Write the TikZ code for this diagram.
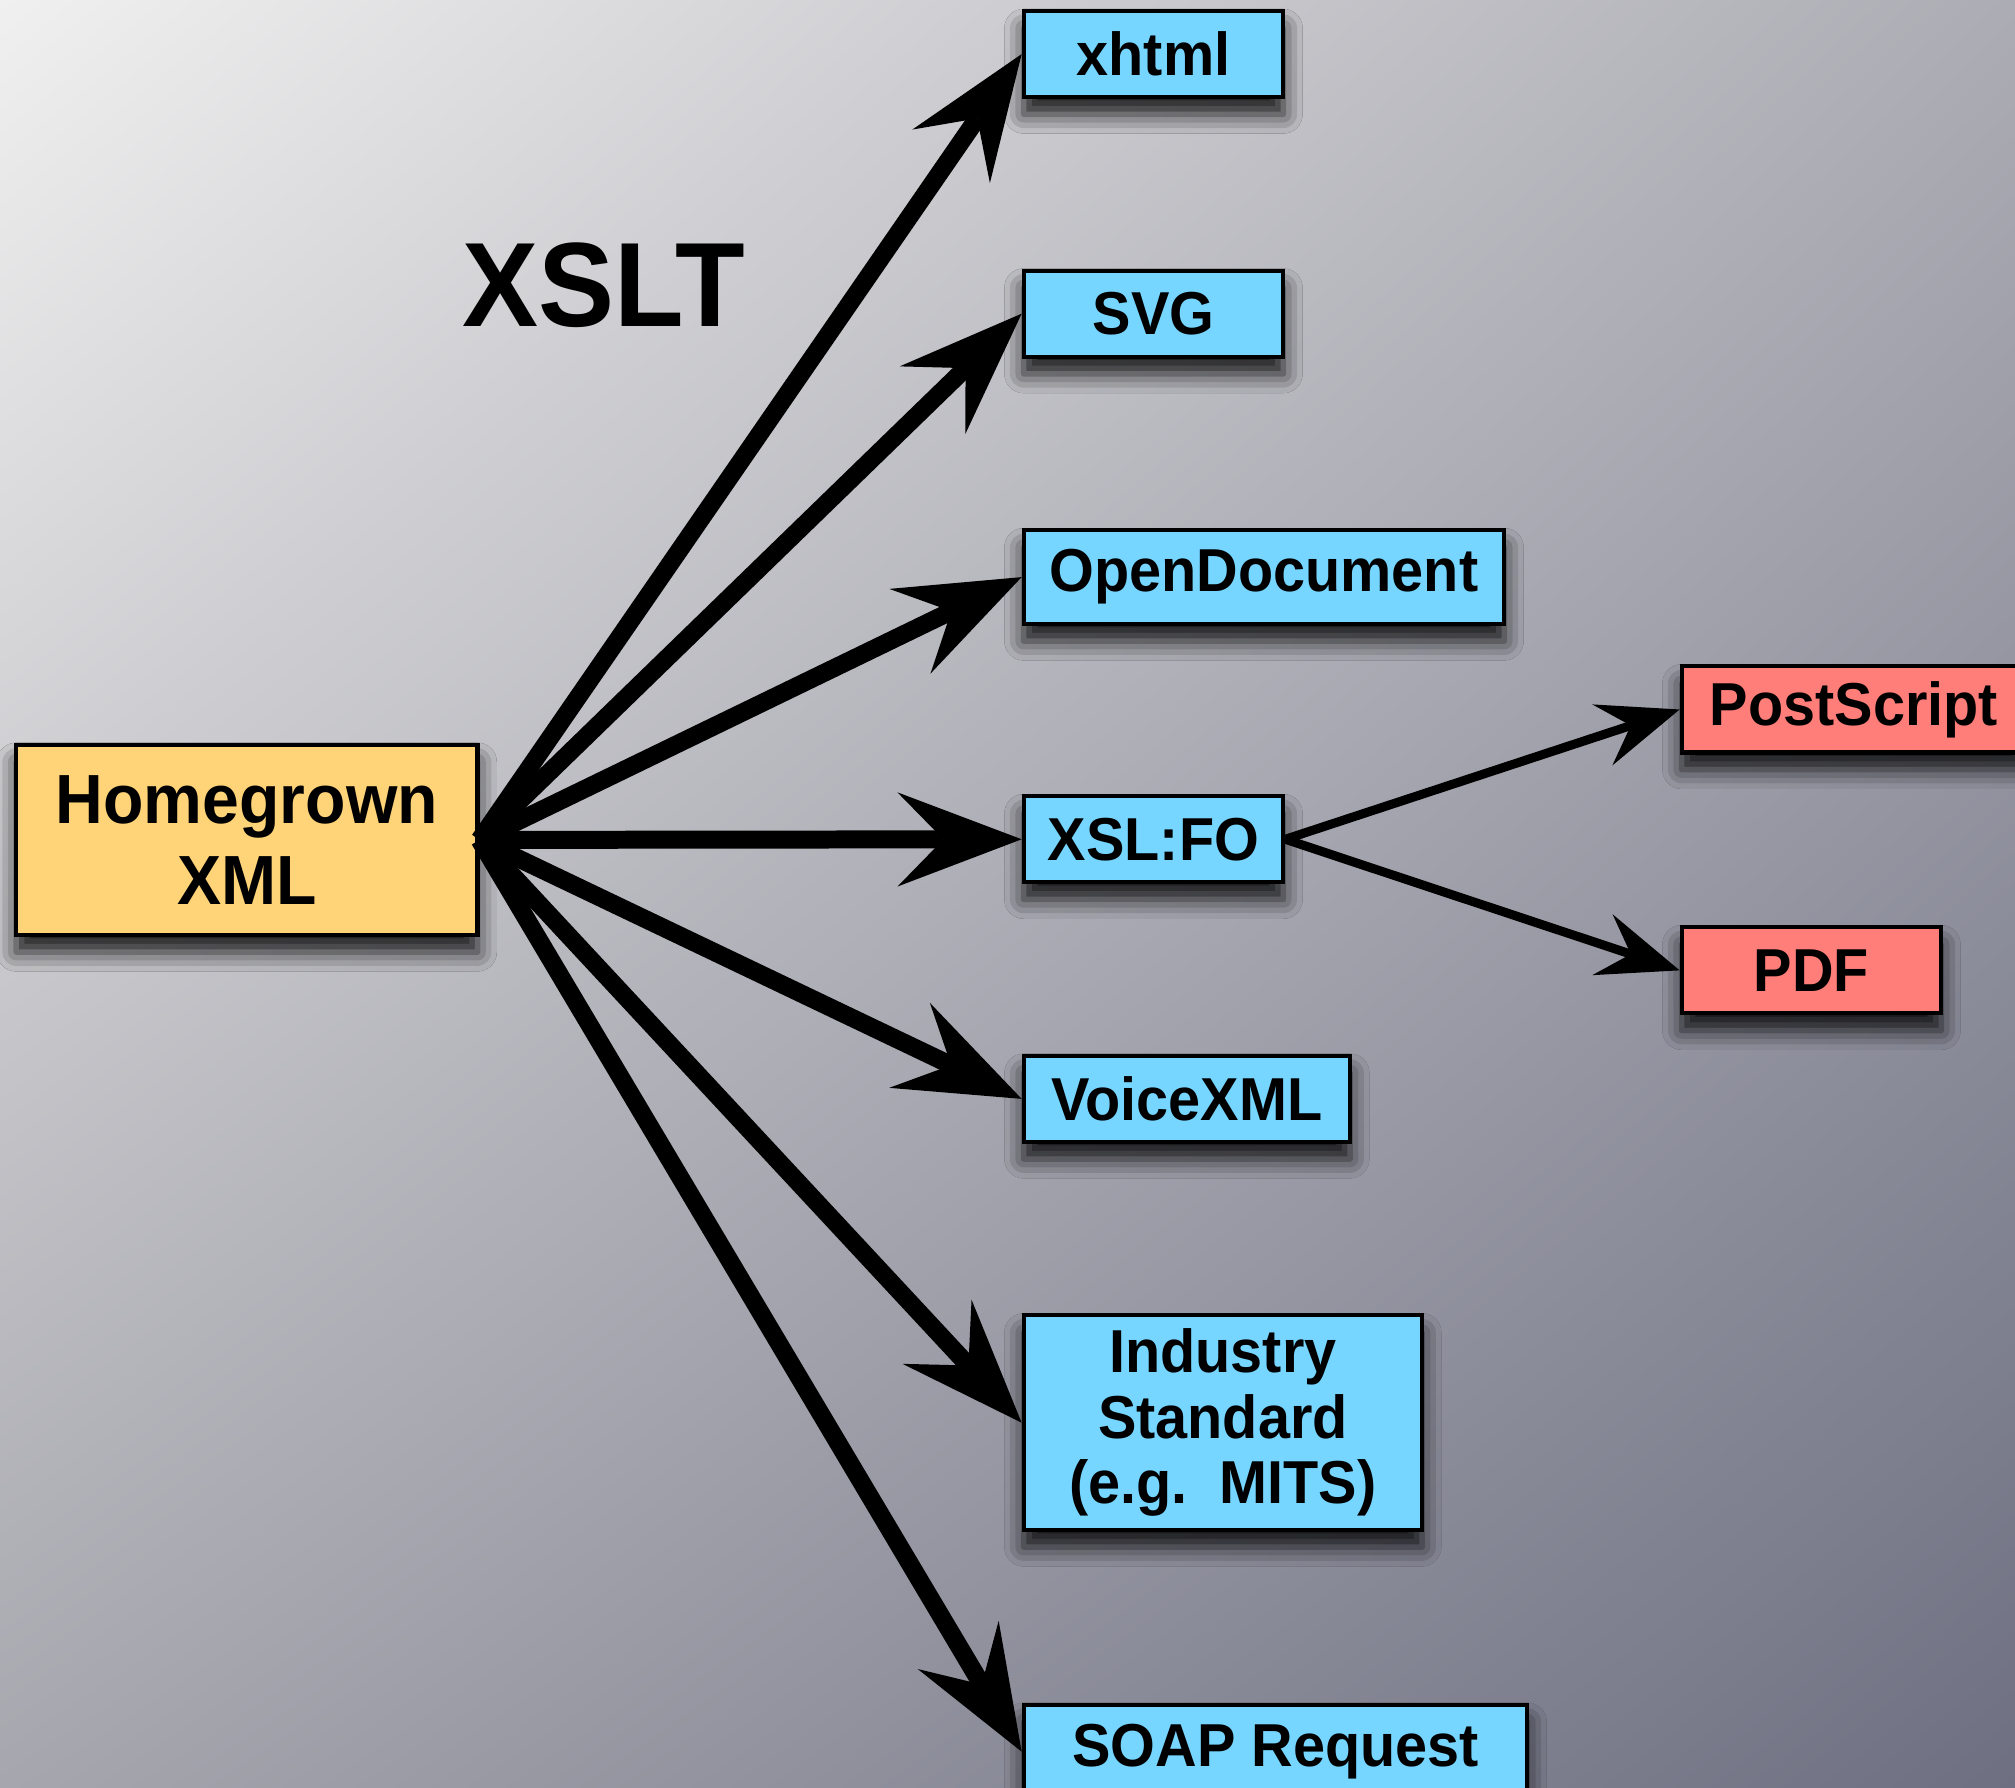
\documentclass[tikz,border=0pt]{standalone}
\usepackage{fontspec}
\setmainfont{Liberation Sans}[FakeStretch=0.95]
\usetikzlibrary{arrows.meta,shadows.blur,shadings}
\definecolor{sky}{HTML}{76D6FF}
\definecolor{cantaloupe}{HTML}{FFD479}
\definecolor{salmon}{HTML}{FF7E79}
\definecolor{bgTL}{HTML}{F0F0F0}
\definecolor{bgTR}{HTML}{ACACB4}
\definecolor{bgBL}{HTML}{A6A6AE}
\definecolor{bgBR}{HTML}{6E7082}
\tikzset{
  box/.style={draw=black, line width=1.9pt, inner sep=0pt, align=center,
    anchor=north west, font=\bfseries\fontsize{28.3}{30.6}\selectfont,
    blur shadow={shadow xshift=0pt, shadow yshift=-8pt, shadow blur radius=9pt, shadow opacity=88}},
  bluebox/.style={box, fill=sky},
  redbox/.style={box, fill=salmon},
  bigarrow/.style={line width=8.4pt, -{Stealth[length=58pt 0, width=44pt 0, inset=21.5pt 0, line width=0pt]}},
  thinarrow/.style={line width=4.2pt, line cap=round, -{Stealth[length=38pt 0, width=30pt 0, inset=14pt 0, line width=0pt]}},
}
\begin{document}
\begin{tikzpicture}[x=0.6pt, y=-0.6pt]
\useasboundingbox (0,0) rectangle (1568,1391);
\shade[upper left=bgTL, upper right=bgTR, lower left=bgBL, lower right=bgBR] (0,0) rectangle (1568,1391);

\node[box, fill=cantaloupe, minimum width=215.4pt, minimum height=88.8pt,
  font=\bfseries\fontsize{32.5}{37.8}\selectfont] (home) at (11,578) {Homegrown\\XML};

\node[bluebox, minimum width=121.2pt, minimum height=40.2pt] (xhtml) at (795,7) {xhtml};
\node[bluebox, minimum width=121.2pt, minimum height=40.2pt] (svg) at (795,209) {SVG};
\node[bluebox, minimum width=224.4pt, minimum height=43.8pt] (odf) at (795,411) {OpenDocument};
\node[bluebox, minimum width=121.2pt, minimum height=40.2pt] (fo) at (795,618) {XSL:FO};
\node[bluebox, minimum width=152.4pt, minimum height=40.2pt] (voice) at (795,820) {VoiceXML};
\node[bluebox, minimum width=186pt, minimum height=100.2pt] (ind) at (795,1022) {Industry\\Standard\\(e.g.~~MITS)};
\node[bluebox, minimum width=235.2pt, minimum height=43.8pt] (soap) at (795,1325) {SOAP Request};
\node[redbox, minimum width=160.8pt, minimum height=40.2pt] (ps) at (1307,517) {PostScript};
\node[redbox, minimum width=121.2pt, minimum height=40.2pt] (pdf) at (1307,720) {PDF};

\node[font=\bfseries\fontsize{56}{62}\selectfont, inner sep=0pt] (xslt) at (470,222) {XSLT};

\draw[bigarrow] (home.east) -- (xhtml.west);
\draw[bigarrow] (home.east) -- (svg.west);
\draw[bigarrow] (home.east) -- (odf.west);
\draw[bigarrow] (home.east) -- (fo.west);
\draw[bigarrow] (home.east) -- (voice.west);
\draw[bigarrow] (home.east) -- (ind.west);
\draw[bigarrow] (home.east) -- (soap.west);
\draw[thinarrow] (fo.east) -- (ps.west);
\draw[thinarrow] (fo.east) -- (pdf.west);
\end{tikzpicture}
\end{document}
